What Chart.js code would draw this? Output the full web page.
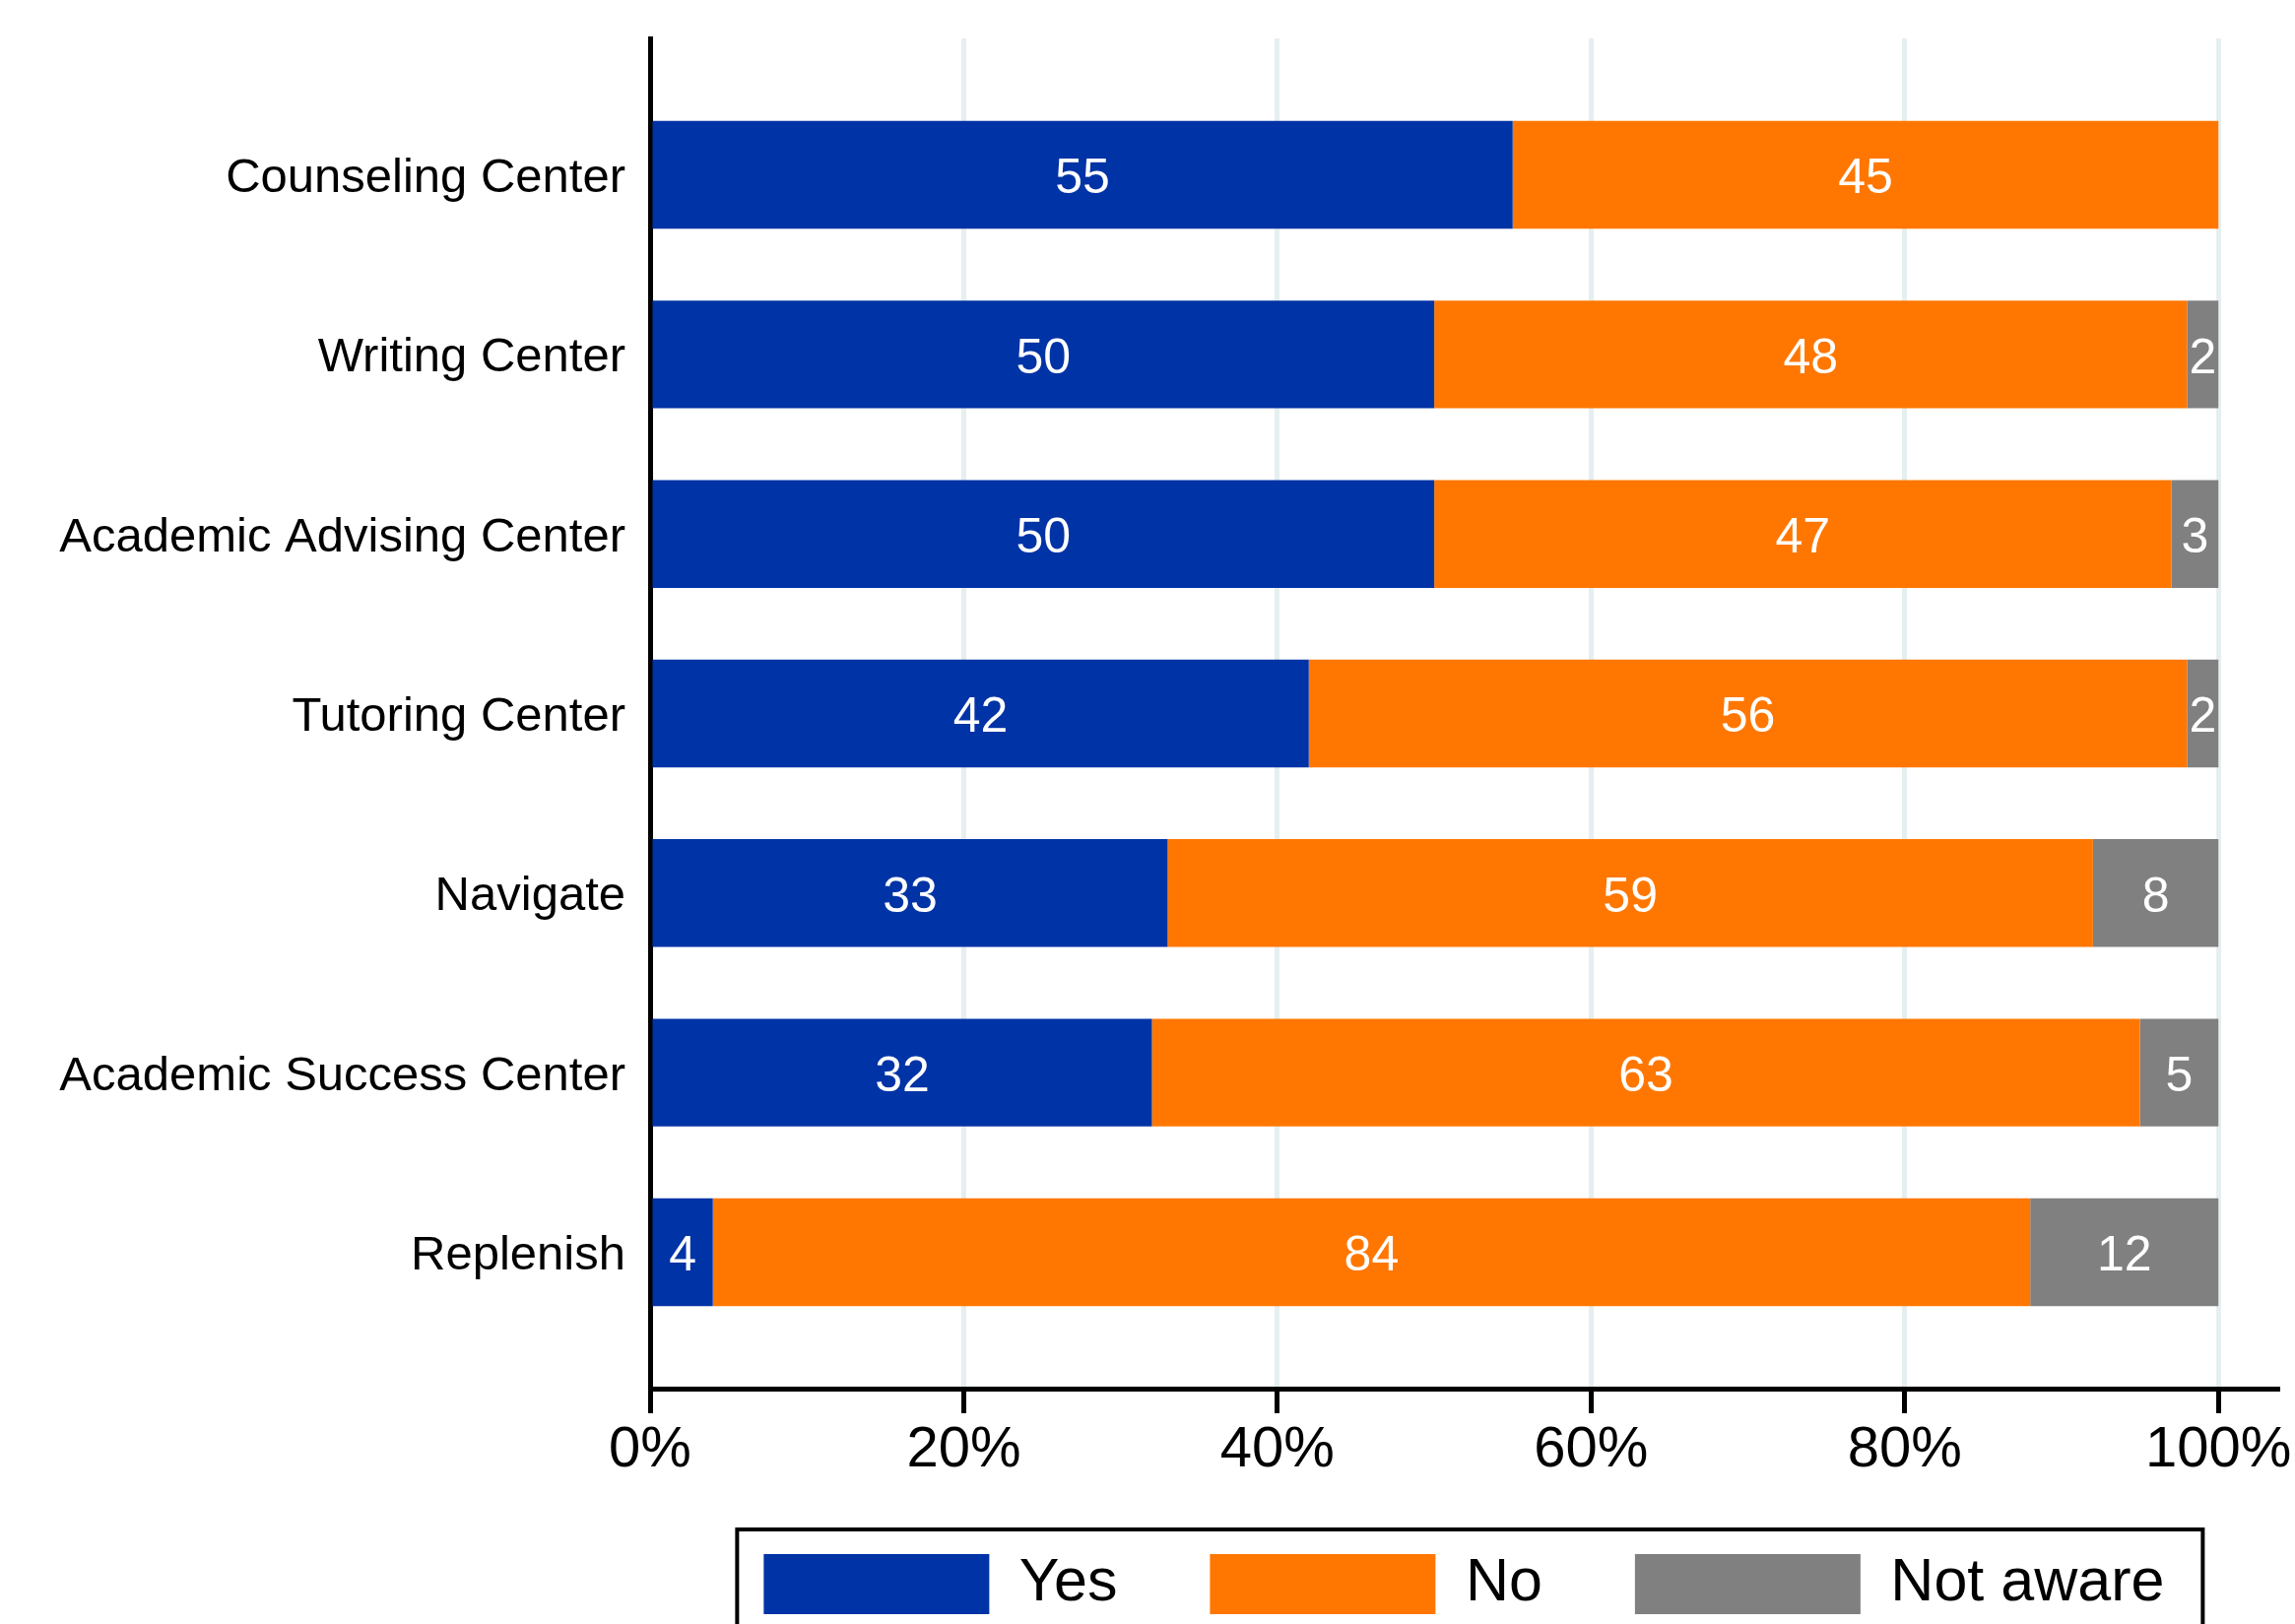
<!DOCTYPE html>
<html>
<head>
<meta charset="utf-8">
<title>Awareness of campus services</title>
<script src="https://cdn.jsdelivr.net/npm/chart.js@4.4.1/dist/chart.umd.min.js"></script>
<style>
  html, body { margin:0; padding:0; background:#fff; }
  #wrap { width:2330px; height:1649px; }
</style>
</head>
<body>
<div id="wrap"><canvas id="chart"></canvas></div>
<script>
'use strict';

/* ── data ── */
const services = ['Counseling Center','Writing Center','Academic Advising Center','Tutoring Center','Navigate','Academic Success Center','Replenish'];
const yes      = [55, 50, 50, 42, 33, 32, 4];
const no       = [45, 48, 47, 56, 59, 63, 84];
const notAware = [0, 2, 3, 2, 8, 5, 12];
const xTicks   = [0, 20, 40, 60, 80, 100];

const C = { blue:'#0033a6', orange:'#ff7700', gray:'#808080', grid:'#e6eff0' };
const FONT = '"Liberation Sans", Arial, sans-serif';

// linear index axis so the axis can run past the first/last bar
const pts = arr => arr.map((v, i) => ({ x:v, y:i }));

/* ── white numbers inside each segment ── */
const segLabels = {
  id:'segLabels',
  afterDatasetsDraw(chart) {
    const { ctx } = chart;
    ctx.save();
    ctx.font = '50px ' + FONT;
    ctx.fillStyle = '#fff';
    ctx.textAlign = 'center';
    ctx.textBaseline = 'middle';
    chart.data.datasets.forEach((ds, di) => {
      chart.getDatasetMeta(di).data.forEach((bar, i) => {
        const v = ds.data[i].x;
        if (!v) return;
        const p = bar.getCenterPoint();
        ctx.fillText(v, p.x, p.y + 5);
      });
    });
    ctx.restore();
  }
};

/* ── x-axis box is squeezed by the legend; let its labels spill below it ── */
const labelRoom = {
  id:'labelRoom',
  afterLayout(chart) { chart.scales.x.bottom += 24; }
};

/* ── frame round the legend (runs off the bottom edge) ── */
const legendFrame = {
  id:'legendFrame',
  afterDraw(chart) {
    const boxes = chart.legend && chart.legend.legendHitBoxes;
    if (!boxes || !boxes.length) return;
    const first = boxes[0], last = boxes[boxes.length - 1];
    const l = first.left - 27, r = last.left + last.width + 39, t = first.top - 25;
    const ctx = chart.ctx;
    ctx.save();
    ctx.strokeStyle = '#000';
    ctx.lineWidth = 4;
    ctx.beginPath();
    ctx.moveTo(l, chart.height + 5);
    ctx.lineTo(l, t);
    ctx.lineTo(r, t);
    ctx.lineTo(r, chart.height + 5);
    ctx.stroke();
    ctx.restore();
  }
};

new Chart(document.getElementById('chart'), {
  type:'bar',
  data:{ datasets:[
    { label:'Yes',       data:pts(yes),      backgroundColor:C.blue },
    { label:'No',        data:pts(no),       backgroundColor:C.orange },
    { label:'Not aware', data:pts(notAware), backgroundColor:C.gray }
  ]},
  options:{
    indexAxis:'y', responsive:true, maintainAspectRatio:false, animation:false,
    datasets:{ bar:{ categoryPercentage:0.6, barPercentage:1, borderWidth:0 } },
    layout:{ padding:{ top:39, right:16, left:0, bottom:0 } },
    plugins:{
      legend:{ position:'bottom', fullSize:false,
        labels:{ boxWidth:229, boxHeight:61, padding:94, color:'#000', font:{ family:FONT, size:61 } } },
      tooltip:{ enabled:false }
    },
    scales:{
      x:{ type:'linear', stacked:true, min:0, max:103.8, bounds:'data',
          grid:{ color:C.grid, lineWidth:5, tickColor:'#000', tickLength:25, tickWidth:5 },
          border:{ color:'#000', width:5 },
          afterBuildTicks: s => { s.ticks = xTicks.map(v => ({ value:v })); },
          afterFit: s => { s.height = 74; },
          ticks:{ color:'#000', padding:3, autoSkip:false, maxRotation:0,
                  font:{ family:FONT, size:58 }, callback: v => v + '%' } },
      y:{ type:'linear', stacked:true, reverse:true, offset:false, bounds:'data',
          min:-0.76, max:6.76,
          grid:{ display:false, drawTicks:false, offset:false },
          border:{ color:'#000', width:5 },
          afterBuildTicks: s => { s.ticks = services.map((_, i) => ({ value:i })); },
          afterFit: s => { s.width = 660; s.paddingTop = 0; s.paddingBottom = 0; },
          ticks:{ color:'#000', padding:25, labelOffset:4, autoSkip:false, includeBounds:false,
                  font:{ family:FONT, size:49 }, callback: v => services[v] } }
    }
  },
  plugins:[segLabels, labelRoom, legendFrame]
});
</script>
</body>
</html>
